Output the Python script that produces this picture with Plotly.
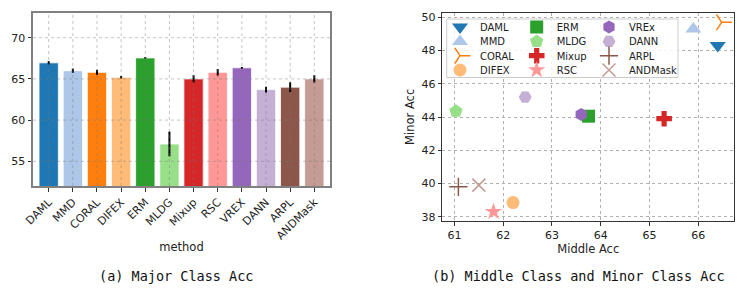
import plotly.graph_objects as go

methods = ["DAML", "MMD", "CORAL", "DIFEX", "ERM", "MLDG", "Mixup", "RSC", "VREX", "DANN", "ARPL", "ANDMask"]
major_acc = [66.95, 66.0, 65.8, 65.2, 67.55, 57.1, 65.0, 65.8, 66.35, 63.7, 64.0, 65.0]
major_err = [0.2, 0.25, 0.3, 0.15, 0.1, 1.5, 0.45, 0.4, 0.1, 0.35, 0.6, 0.45]
colors = ["#1f77b4", "#aec7e8", "#ff7f0e", "#ffbb78", "#2ca02c", "#98df8a",
          "#d62728", "#ff9896", "#9467bd", "#c5b0d5", "#8c564b", "#c49c94"]

scatter_names = ["DAML", "MMD", "CORAL", "DIFEX", "ERM", "MLDG", "Mixup", "RSC", "VREx", "DANN", "ARPL", "ANDMask"]
middle_acc = [66.4, 65.9, 66.48, 62.2, 63.75, 61.03, 65.3, 61.8, 63.6, 62.45, 61.08, 61.5]
minor_acc = [48.3, 49.3, 49.7, 38.85, 44.05, 44.35, 43.9, 38.3, 44.15, 45.2, 39.8, 39.9]
symbols = ["triangle-down", "triangle-up", "y-right", "circle", "square", "pentagon",
           "cross", "star", "hexagon", "hexagon2", "cross-thin", "x-thin"]
sizes = [14, 14, 13, 13, 13, 14, 13, 13, 13, 13, 13, 13]

# page body has an 8px margin: build the figure 8px smaller and shift coordinates
OFF = 8
W, H = 747 - OFF, 293 - OFF
L = dict(x0=33, x1=330, y0=13, y1=186)
R = dict(x0=442.3, x1=734.3, y0=12.7, y1=221)

def px(x):
    return (x - OFF) / W

def py(y):
    return 1 - (y - OFF) / H

def xd(a, b):
    return [px(a), px(b)]

def yd(top, bot):
    return [py(bot), py(top)]

fig = go.Figure()

fig.add_trace(go.Bar(
    x=methods, y=major_acc, marker=dict(color=colors, line=dict(color="white", width=0.8)),
    width=0.8,
    error_y=dict(type="data", array=major_err, color="black", thickness=2, width=0),
    xaxis="x", yaxis="y", showlegend=False,
))

# legend layout: 3 columns x 4 rows, filled column by column (one legend per entry)
leg_cols_x = [440, 516.7, 589]
leg_rows_y = [26, 40.3, 54.6, 68.9]
leg_base = dict(yanchor="top", xanchor="left", bgcolor="rgba(0,0,0,0)", borderwidth=0,
                font=dict(size=10, color="#222"), itemsizing="trace")
legend_layout = {}

for i, n in enumerate(scatter_names):
    thin = symbols[i] in ("y-right", "cross-thin", "x-thin")
    lname = "legend" if i == 0 else f"legend{i + 1}"
    col, row = divmod(i, 4)
    legend_layout[lname] = dict(x=px(leg_cols_x[col]), y=py(leg_rows_y[row] - 13.4), **leg_base)
    fig.add_trace(go.Scatter(
        x=[middle_acc[i]], y=[minor_acc[i]], mode="markers", name=n,
        marker=dict(symbol=symbols[i], size=sizes[i], color=colors[i],
                    line=dict(color=colors[i], width=1.5 if thin else 0)),
        xaxis="x2", yaxis="y2", legend=lname, cliponaxis=False,
    ))

# gridlines drawn above the bars (as matplotlib does)
shapes = []
for m in methods:
    shapes.append(dict(type="line", xref="x", yref="y domain", x0=m, x1=m, y0=0, y1=1,
                       line=dict(color="rgba(120,120,120,0.55)", width=0.8, dash="dot"), layer="above"))
for v in [55, 60, 65, 70]:
    shapes.append(dict(type="line", xref="x domain", yref="y", x0=0, x1=1, y0=v, y1=v,
                       line=dict(color="rgba(120,120,120,0.55)", width=0.8, dash="dot"), layer="above"))
# legend frame
shapes.append(dict(type="rect", xref="paper", yref="paper",
                   x0=px(446.7), x1=px(678), y0=py(77.5), y1=py(19),
                   fillcolor="rgba(255,255,255,0.85)", line=dict(color="#cccccc", width=1), layer="above"))

tickfont = dict(family="DejaVu Sans", size=11, color="#222")

fig.update_layout(
    width=W, height=H, margin=dict(l=0, r=0, t=0, b=0),
    paper_bgcolor="white", plot_bgcolor="white",
    font=dict(family="DejaVu Sans", size=11, color="#222"),
    shapes=shapes,
    xaxis=dict(domain=xd(L["x0"], L["x1"]), anchor="y", range=[-0.65, 11.65], automargin=False,
               tickangle=-45, tickfont=tickfont, showgrid=False,
               showline=True, mirror=True, linecolor="#808080", linewidth=2,
               ticks="outside", ticklen=3.5, tickcolor="#333",
               title=dict(text="method", font=dict(size=11.5), standoff=2)),
    yaxis=dict(domain=yd(L["y0"], L["y1"]), anchor="x", range=[52, 73], automargin=False,
               tickvals=[55, 60, 65, 70], tickfont=tickfont, showgrid=False, zeroline=False,
               showline=True, mirror=True, linecolor="#808080", linewidth=2,
               ticks="outside", ticklen=3.5, tickcolor="#333"),
    xaxis2=dict(domain=xd(R["x0"], R["x1"]), anchor="y2", range=[60.75, 66.74], automargin=False,
                tickvals=[61, 62, 63, 64, 65, 66], tickfont=tickfont,
                showgrid=True, gridcolor="#b0b0b0", griddash="dot", gridwidth=0.8, zeroline=False,
                showline=True, mirror=True, linecolor="#333", linewidth=1.2,
                ticks="outside", ticklen=3.5, tickcolor="#333",
                title=dict(text="Middle Acc", font=dict(size=11.5), standoff=2)),
    yaxis2=dict(domain=yd(R["y0"], R["y1"]), anchor="x2", range=[37.74, 50.28], automargin=False,
                tickvals=[38, 40, 42, 44, 46, 48, 50], tickfont=tickfont,
                showgrid=True, gridcolor="#b0b0b0", griddash="dot", gridwidth=0.8, zeroline=False,
                showline=True, mirror=True, linecolor="#333", linewidth=1.2,
                ticks="outside", ticklen=3.5, tickcolor="#333",
                title=dict(text="Minor Acc", font=dict(size=11.5), standoff=4)),
    annotations=[
        dict(text="(a) Major Class Acc", x=px(175.5), y=py(276), xref="paper", yref="paper",
             xanchor="center", yanchor="middle", showarrow=False,
             font=dict(family="DejaVu Sans Mono", size=13.5, color="#111")),
        dict(text="(b) Middle Class and Minor Class Acc", x=px(578), y=py(276),
             xref="paper", yref="paper", xanchor="center", yanchor="middle", showarrow=False,
             font=dict(family="DejaVu Sans Mono", size=13.5, color="#111")),
    ],
    **legend_layout,
)

fig.write_html("out.html")
